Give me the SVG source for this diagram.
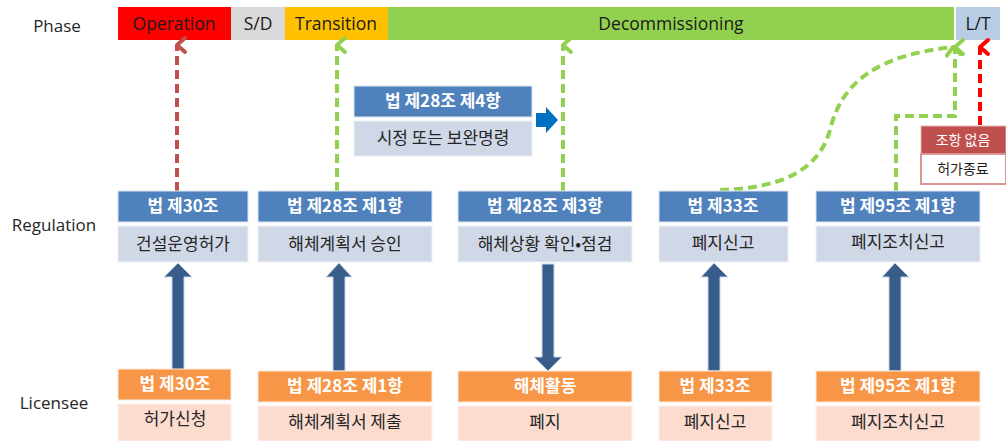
<svg xmlns="http://www.w3.org/2000/svg" width="1006" height="441" viewBox="0 0 1006 441">
<style>
.lbl{font-family:"Open Sans","Noto Sans",sans-serif;font-size:17px;fill:#262626;text-anchor:middle}
.ph{font-family:"Open Sans","Noto Sans",sans-serif;font-size:17.5px;fill:#1a1a1a;text-anchor:middle}
.hd{font-family:"Noto Sans CJK KR",sans-serif;font-size:17px;font-weight:bold;fill:#ffffff;text-anchor:middle}
.bd{font-family:"Noto Sans CJK KR",sans-serif;font-size:17px;fill:#262626;text-anchor:middle}
.sm{font-family:"Noto Sans CJK KR",sans-serif;font-size:14px;text-anchor:middle}
.bh{fill:#4f81bd;stroke:#dce6f1;stroke-width:1}
.bb{fill:#d0d8e8;stroke:#eef2f8;stroke-width:1}
.oh{fill:#f79646;stroke:#fde9d9;stroke-width:1}
.ob{fill:#fcdccf;stroke:#fef1ec;stroke-width:1}
.blk{fill:#385d8a;stroke:#c9d6e6;stroke-width:1}
.dr{fill:none;stroke:#c0504d;stroke-width:4;stroke-dasharray:9 5}
.dg{fill:none;stroke:#92d050;stroke-width:4;stroke-dasharray:9 5}
.dx{fill:none;stroke:#ff0000;stroke-width:4;stroke-dasharray:9 5}
</style>
<defs>
<marker id="mr" markerUnits="userSpaceOnUse" markerWidth="20" markerHeight="20" refX="10" refY="3" orient="auto-start-reverse" viewBox="0 0 20 20"><path d="M3,11 L10,3 L17,11" stroke="#c0504d" stroke-width="4" fill="none" stroke-linejoin="round" stroke-linecap="round"/></marker>
<marker id="mg" markerUnits="userSpaceOnUse" markerWidth="20" markerHeight="20" refX="10" refY="3" orient="auto-start-reverse" viewBox="0 0 20 20"><path d="M3,11 L10,3 L17,11" stroke="#92d050" stroke-width="4" fill="none" stroke-linejoin="round" stroke-linecap="round"/></marker>
<marker id="mx" markerUnits="userSpaceOnUse" markerWidth="20" markerHeight="20" refX="10" refY="3" orient="auto-start-reverse" viewBox="0 0 20 20"><path d="M3,11 L10,3 L17,11" stroke="#ff0000" stroke-width="4" fill="none" stroke-linejoin="round" stroke-linecap="round"/></marker>
</defs>
<rect width="1006" height="441" fill="#ffffff"/>

<g id="phase">
<text class="lbl" x="57" y="32">Phase</text>
<rect x="118" y="7" width="113" height="33" fill="#ff0000"/>
<text class="ph" x="174" y="30">Operation</text>
<rect x="231" y="7" width="54" height="33" fill="#d9d9d9"/>
<text class="ph" x="258" y="30">S/D</text>
<rect x="285" y="7" width="103" height="33" fill="#ffc000"/>
<text class="ph" x="336" y="30">Transition</text>
<rect x="388" y="7" width="566" height="33" fill="#92d050"/>
<text class="ph" x="671" y="30">Decommissioning</text>
<rect x="956" y="7" width="44" height="33" fill="#b8cce4"/>
<text class="ph" x="978" y="30">L/T</text>
</g>

<text class="lbl" x="54" y="231">Regulation</text>
<text class="lbl" x="54" y="409">Licensee</text>

<g id="connectors">
<path class="dr" d="M177,191 V45" marker-end="url(#mr)"/>
<path class="dg" d="M337,191 V45" marker-end="url(#mg)"/>
<path class="dg" d="M563,191 V45" marker-end="url(#mg)"/>
<path class="dg" d="M720,190 C790,188 820,165 830,130 C842,80 880,55 953,47" marker-end="url(#mg)"/>
<path class="dg" d="M896,191 V116 H955 V47" marker-end="url(#mg)"/>
<path class="dx" d="M980,125 V47" marker-end="url(#mx)"/>
<polygon class="blk" points="172,370 172,277 164,277 178,263 192,277 184,277 184,370"/>
<polygon class="blk" points="333,371 333,277 326,277 339,263 352,277 345,277 345,371"/>
<polygon class="blk" points="542,264 554,264 554,357 562,357 548,371 534,357 542,357"/>
<polygon class="blk" points="708,371 708,277 701,277 714,263 728,277 720,277 720,371"/>
<polygon class="blk" points="889,371 889,277 882,277 895,263 909,277 901,277 901,371"/>
<polygon points="536,113 546,113 546,107 558,120 546,133 546,127 536,127" fill="#0070c0"/>
</g>

<g id="reg1">
<rect class="bh" x="118" y="191" width="130" height="31"/>
<text class="hd" x="183" y="212">법 제30조</text>
<rect class="bb" x="118" y="226" width="130" height="36"/>
<text class="bd" x="183" y="250">건설운영허가</text>
</g>
<g id="reg2">
<rect class="bh" x="258" y="191" width="174" height="31"/>
<text class="hd" x="345" y="212">법 제28조 제1항</text>
<rect class="bb" x="258" y="226" width="174" height="36"/>
<text class="bd" x="345" y="250">해체계획서 승인</text>
</g>
<g id="reg3">
<rect class="bh" x="458" y="191" width="174" height="31"/>
<text class="hd" x="545" y="212">법 제28조 제3항</text>
<rect class="bb" x="458" y="226" width="174" height="36"/>
<text class="bd" x="545" y="250">해체상황 확인•점검</text>
</g>
<g id="reg4">
<rect class="bh" x="659" y="191" width="129" height="31"/>
<text class="hd" x="723" y="212">법 제33조</text>
<rect class="bb" x="659" y="226" width="129" height="36"/>
<text class="bd" x="723" y="249">폐지신고</text>
</g>
<g id="reg5">
<rect class="bh" x="816" y="191" width="164" height="31"/>
<text class="hd" x="898" y="212">법 제95조 제1항</text>
<rect class="bb" x="816" y="226" width="164" height="36"/>
<text class="bd" x="898" y="248">폐지조치신고</text>
</g>
<g id="reg-order">
<rect class="bh" x="354" y="86" width="178" height="31"/>
<text class="hd" x="443" y="107">법 제28조 제4항</text>
<rect class="bb" x="354" y="121" width="178" height="35"/>
<text class="bd" x="443" y="144">시정 또는 보완명령</text>
</g>
<g id="lt-none">
<rect x="921" y="126" width="85" height="28" fill="#c0504d" stroke="#e6b9b8" stroke-width="1"/>
<text class="sm" x="963" y="145" fill="#ffffff">조항 없음</text>
<rect x="921" y="154" width="85" height="30" fill="#ffffff" stroke="#d99694" stroke-width="2"/>
<text class="sm" x="963" y="174" fill="#1a1a1a">허가종료</text>
</g>

<g id="lic1">
<rect class="oh" x="118" y="369" width="113" height="31"/>
<text class="hd" x="175" y="390">법 제30조</text>
<rect class="ob" x="118" y="404" width="113" height="37"/>
<text class="bd" x="175" y="425">허가신청</text>
</g>
<g id="lic2">
<rect class="oh" x="258" y="371" width="174" height="31"/>
<text class="hd" x="345" y="392">법 제28조 제1항</text>
<rect class="ob" x="258" y="406" width="174" height="35"/>
<text class="bd" x="345" y="428">해체계획서 제출</text>
</g>
<g id="lic3">
<rect class="oh" x="458" y="371" width="174" height="31"/>
<text class="hd" x="545" y="392">해체활동</text>
<rect class="ob" x="458" y="406" width="174" height="35"/>
<text class="bd" x="545" y="428">폐지</text>
</g>
<g id="lic4">
<rect class="oh" x="659" y="371" width="113" height="31"/>
<text class="hd" x="715" y="392">법 제33조</text>
<rect class="ob" x="659" y="406" width="113" height="35"/>
<text class="bd" x="715" y="428">폐지신고</text>
</g>
<g id="lic5">
<rect class="oh" x="816" y="371" width="164" height="31"/>
<text class="hd" x="898" y="392">법 제95조 제1항</text>
<rect class="ob" x="816" y="406" width="164" height="35"/>
<text class="bd" x="898" y="428">폐지조치신고</text>
</g>
</svg>
